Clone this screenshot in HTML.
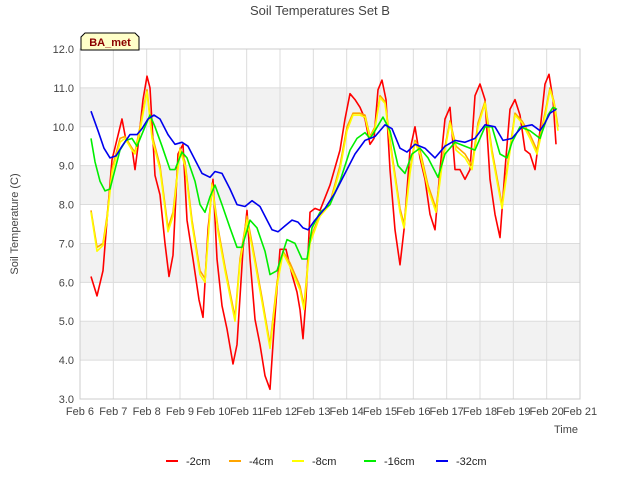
<!DOCTYPE html>
<html><head><meta charset="utf-8"><style>
body{margin:0;background:#fff;font-family:"Liberation Sans",sans-serif}
</style></head><body>
<svg id="chart" width="640" height="480" xmlns="http://www.w3.org/2000/svg" font-family="Liberation Sans, sans-serif">
<rect width="640" height="480" fill="#fff"/>
<text x="320" y="15" text-anchor="middle" font-size="13" fill="#444">Soil Temperatures Set B</text>
<g id="bands"></g><g id="grid"></g><g id="axes"></g><g id="series"></g>
<text transform="translate(18,224) rotate(-90)" text-anchor="middle" font-size="11" fill="#444">Soil Temperature (C)</text>
<text x="578" y="433" text-anchor="end" font-size="11" fill="#444">Time</text>
<g>
<path d="M81,50 L81,37 L85,33 L135,33 L139,37 L139,50 Z" fill="#ffffc8" stroke="#000" stroke-width="1"/>
<text x="110" y="46" text-anchor="middle" font-size="11" font-weight="bold" fill="#8b0000">BA_met</text>
</g>
<g id="legend"></g>
</svg>
<script>
const yTicks=[3,4,5,6,7,8,9,10,11,12];
const xTickLabels=["Feb 6","Feb 7","Feb 8","Feb 9","Feb 10","Feb 11","Feb 12","Feb 13","Feb 14","Feb 15","Feb 16","Feb 17","Feb 18","Feb 19","Feb 20","Feb 21"];
const seriesNames=["-2cm","-4cm","-8cm","-16cm","-32cm"];
const seriesColors=["#ff0000","#ffa500","#ffff00","#00ee00","#0000ee"];
const t2=[0.33,0.51,0.69,0.81,0.96,1.26,1.38,1.56,1.65,1.74,1.89,2.01,2.10,2.25,2.40,2.55,2.67,2.79,2.94,3.09,3.21,3.39,3.57,3.69,3.84,3.99,4.11,4.26,4.41,4.59,4.71,4.89,5.01,5.10,5.25,5.40,5.55,5.70,5.82,6.00,6.18,6.36,6.51,6.60,6.69,6.78,6.90,7.05,7.20,7.50,7.80,7.95,8.10,8.25,8.40,8.55,8.70,8.82,8.94,9.06,9.18,9.30,9.45,9.60,9.72,9.90,10.05,10.20,10.35,10.50,10.65,10.80,10.95,11.10,11.25,11.40,11.55,11.70,11.85,12.00,12.15,12.30,12.45,12.60,12.75,12.90,13.05,13.20,13.35,13.50,13.65,13.80,13.95,14.07,14.19,14.28];
const v2=[6.15,5.65,6.3,7.6,9.15,10.2,9.65,9.45,8.9,9.5,10.7,11.3,11.0,8.75,8.25,7.0,6.15,6.7,9.3,9.55,7.6,6.6,5.55,5.1,7.35,8.65,6.6,5.4,4.8,3.9,4.4,6.85,7.85,6.6,5.05,4.4,3.6,3.25,4.8,6.85,6.85,6.2,5.75,5.3,4.55,5.6,7.8,7.9,7.85,8.5,9.4,10.2,10.85,10.7,10.5,10.2,9.55,9.7,10.95,11.2,10.7,8.9,7.35,6.45,7.35,9.4,10.0,9.2,8.65,7.75,7.35,8.9,10.2,10.5,8.9,8.9,8.65,8.9,10.8,11.1,10.7,8.65,7.75,7.15,8.9,10.45,10.7,10.3,9.4,9.3,8.9,9.9,11.1,11.35,10.7,9.55];
const t8=[0.33,0.51,0.69,0.81,0.96,1.2,1.35,1.56,1.65,1.8,2.01,2.16,2.4,2.64,2.79,3.0,3.15,3.36,3.6,3.75,3.96,4.14,4.35,4.65,4.8,5.01,5.25,5.46,5.70,5.91,6.09,6.3,6.6,6.72,6.9,7.2,7.5,7.8,8.01,8.19,8.4,8.55,8.7,8.85,9.0,9.15,9.36,9.6,9.72,9.9,10.05,10.2,10.44,10.68,10.86,11.1,11.28,11.55,11.76,11.94,12.15,12.36,12.66,12.84,13.05,13.26,13.5,13.71,13.89,14.1,14.22,14.34];
const v8=[7.8,6.8,6.95,7.6,8.8,9.6,9.7,9.4,9.3,9.9,10.9,9.7,8.9,7.3,7.7,9.4,9.0,7.5,6.2,6.0,8.5,7.3,6.3,5.0,6.5,7.6,6.5,5.5,4.3,5.9,6.75,6.4,5.8,5.3,7.0,7.7,8.0,8.9,9.9,10.3,10.3,10.25,9.7,9.95,10.75,10.6,9.2,7.8,7.4,8.8,9.6,9.3,8.4,7.8,9.0,10.1,9.4,9.2,8.9,10.0,10.6,9.3,7.9,9.0,10.3,10.1,9.7,9.3,10.0,10.95,10.6,9.9];
const t4=[0.33,0.51,0.69,0.81,0.96,1.2,1.35,1.56,1.65,1.8,2.01,2.16,2.4,2.64,2.79,3.0,3.15,3.36,3.6,3.75,3.96,4.14,4.35,4.65,4.8,5.01,5.25,5.46,5.70,5.91,6.09,6.3,6.6,6.72,6.9,7.2,7.5,7.8,8.01,8.19,8.4,8.55,8.7,8.85,9.0,9.15,9.36,9.6,9.72,9.9,10.05,10.2,10.44,10.68,10.86,11.1,11.28,11.55,11.76,11.94,12.15,12.36,12.66,12.84,13.05,13.26,13.5,13.71,13.89,14.1,14.22,14.34];
const v4=[7.85,6.9,7.0,7.7,8.9,9.7,9.75,9.45,9.35,10.0,10.95,9.8,9.0,7.4,7.8,9.45,9.1,7.6,6.3,6.1,8.55,7.4,6.4,5.1,6.6,7.7,6.6,5.6,4.4,6.0,6.8,6.5,5.9,5.4,7.1,7.75,8.05,9.0,10.0,10.35,10.35,10.3,9.75,10.0,10.8,10.65,9.3,7.9,7.5,8.9,9.65,9.4,8.5,7.9,9.1,10.15,9.5,9.3,9.0,10.1,10.65,9.4,8.0,9.1,10.35,10.15,9.8,9.4,10.1,11.0,10.65,10.0];
const t16=[0.33,0.45,0.6,0.75,0.9,1.05,1.2,1.38,1.56,1.71,1.95,2.1,2.25,2.46,2.7,2.85,3.06,3.21,3.45,3.6,3.75,3.9,4.05,4.26,4.5,4.71,4.86,5.1,5.31,5.55,5.70,5.91,6.21,6.45,6.66,6.81,6.96,7.2,7.5,7.8,8.1,8.31,8.55,8.7,8.85,9.09,9.3,9.54,9.75,9.96,10.2,10.44,10.74,10.95,11.25,11.55,11.85,12.15,12.36,12.6,12.81,12.96,13.2,13.5,13.8,14.04,14.19,14.31];
const v16=[9.7,9.1,8.6,8.35,8.4,8.9,9.4,9.65,9.7,9.5,10.0,10.3,10.0,9.5,8.9,8.9,9.35,9.2,8.6,8.0,7.8,8.2,8.5,8.0,7.4,6.9,6.9,7.6,7.4,6.8,6.2,6.3,7.1,7.0,6.6,6.6,7.4,7.8,8.0,8.6,9.4,9.7,9.85,9.7,9.9,10.25,9.9,9.0,8.8,9.3,9.45,9.2,8.7,9.3,9.6,9.5,9.4,10.0,10.0,9.3,9.2,9.6,10.0,9.9,9.7,10.3,10.5,10.45];
const t32=[0.33,0.54,0.72,0.9,1.08,1.26,1.5,1.71,1.86,2.04,2.22,2.4,2.64,2.85,3.06,3.24,3.48,3.66,3.9,4.05,4.26,4.5,4.71,4.95,5.16,5.4,5.61,5.76,5.94,6.15,6.36,6.54,6.69,6.84,7.05,7.35,7.65,7.95,8.25,8.55,8.85,9.15,9.36,9.6,9.81,10.05,10.35,10.65,10.95,11.25,11.55,11.85,12.15,12.45,12.69,12.96,13.26,13.56,13.8,13.95,14.1,14.28];
const v32=[10.4,9.9,9.45,9.2,9.25,9.5,9.8,9.8,9.95,10.2,10.3,10.2,9.8,9.55,9.6,9.5,9.1,8.8,8.7,8.85,8.8,8.4,8.0,7.95,8.1,7.95,7.6,7.35,7.3,7.45,7.6,7.55,7.4,7.35,7.6,7.9,8.3,8.8,9.3,9.65,9.75,10.05,9.95,9.45,9.35,9.55,9.45,9.2,9.5,9.65,9.6,9.7,10.05,10.0,9.65,9.7,10.0,10.05,9.9,10.1,10.35,10.45];

const X0=80,X1=580,Y0=399,Y1=49;
const xs=d=>X0+d*(X1-X0)/15;
const ys=v=>Y0-(v-3)*(Y0-Y1)/9;
const NS="http://www.w3.org/2000/svg";
function mk(tag,attrs,parent){const e=document.createElementNS(NS,tag);for(const k in attrs)e.setAttribute(k,attrs[k]);parent.appendChild(e);return e;}
const bands=document.getElementById('bands'),grid=document.getElementById('grid'),axes=document.getElementById('axes'),ser=document.getElementById('series'),leg=document.getElementById('legend');
const pb=mk('rect',{x:X0,y:Y1,width:X1-X0,height:Y0-Y1,fill:'#fff'},bands);


for(let v=4;v<12;v+=2){const b=mk('rect',{x:X0,y:ys(v+1),width:X1-X0,height:ys(v)-ys(v+1),fill:'#f2f2f2'},bands);

}
yTicks.forEach(v=>{const l=mk('line',{x1:X0,x2:X1,y1:ys(v),y2:ys(v),stroke:'#dcdcdc'},grid);


const t=mk('text',{x:X0-6,y:ys(v)+4,'text-anchor':'end','font-size':11,fill:'#444'},axes);t.textContent=v.toFixed(1);

});
xTickLabels.forEach((s,i)=>{const l=mk('line',{x1:xs(i),x2:xs(i),y1:Y1,y2:Y0,stroke:'#dcdcdc'},grid);


const t=mk('text',{x:xs(i),y:Y0+16,'text-anchor':'middle','font-size':11,fill:'#444'},axes);t.textContent=s;

});
const fr=mk('rect',{x:X0,y:Y1,width:X1-X0,height:Y0-Y1,fill:'none',stroke:'#ccc'},axes);


const all=[[t2,v2],[t4,v4],[t8,v8],[t16,v16],[t32,v32]];
all.forEach((s,i)=>{const d=s[0].map((t,j)=>(j?'L':'M')+xs(t).toFixed(1)+','+ys(s[1][j]).toFixed(1)).join(' ');
const p=mk('path',{d:d,fill:'none',stroke:seriesColors[i],'stroke-width':1.6,'stroke-linejoin':'round'},ser);

});
const lx=[166,229,292,364,436];
seriesNames.forEach((n,i)=>{const g=mk('g',{},leg);


mk('line',{x1:lx[i],x2:lx[i]+12,y1:461,y2:461,stroke:seriesColors[i],'stroke-width':2},g);
const t=mk('text',{x:lx[i]+20,y:465,'font-size':11,fill:'#222'},g);t.textContent=n;});
</script>
</body></html>
